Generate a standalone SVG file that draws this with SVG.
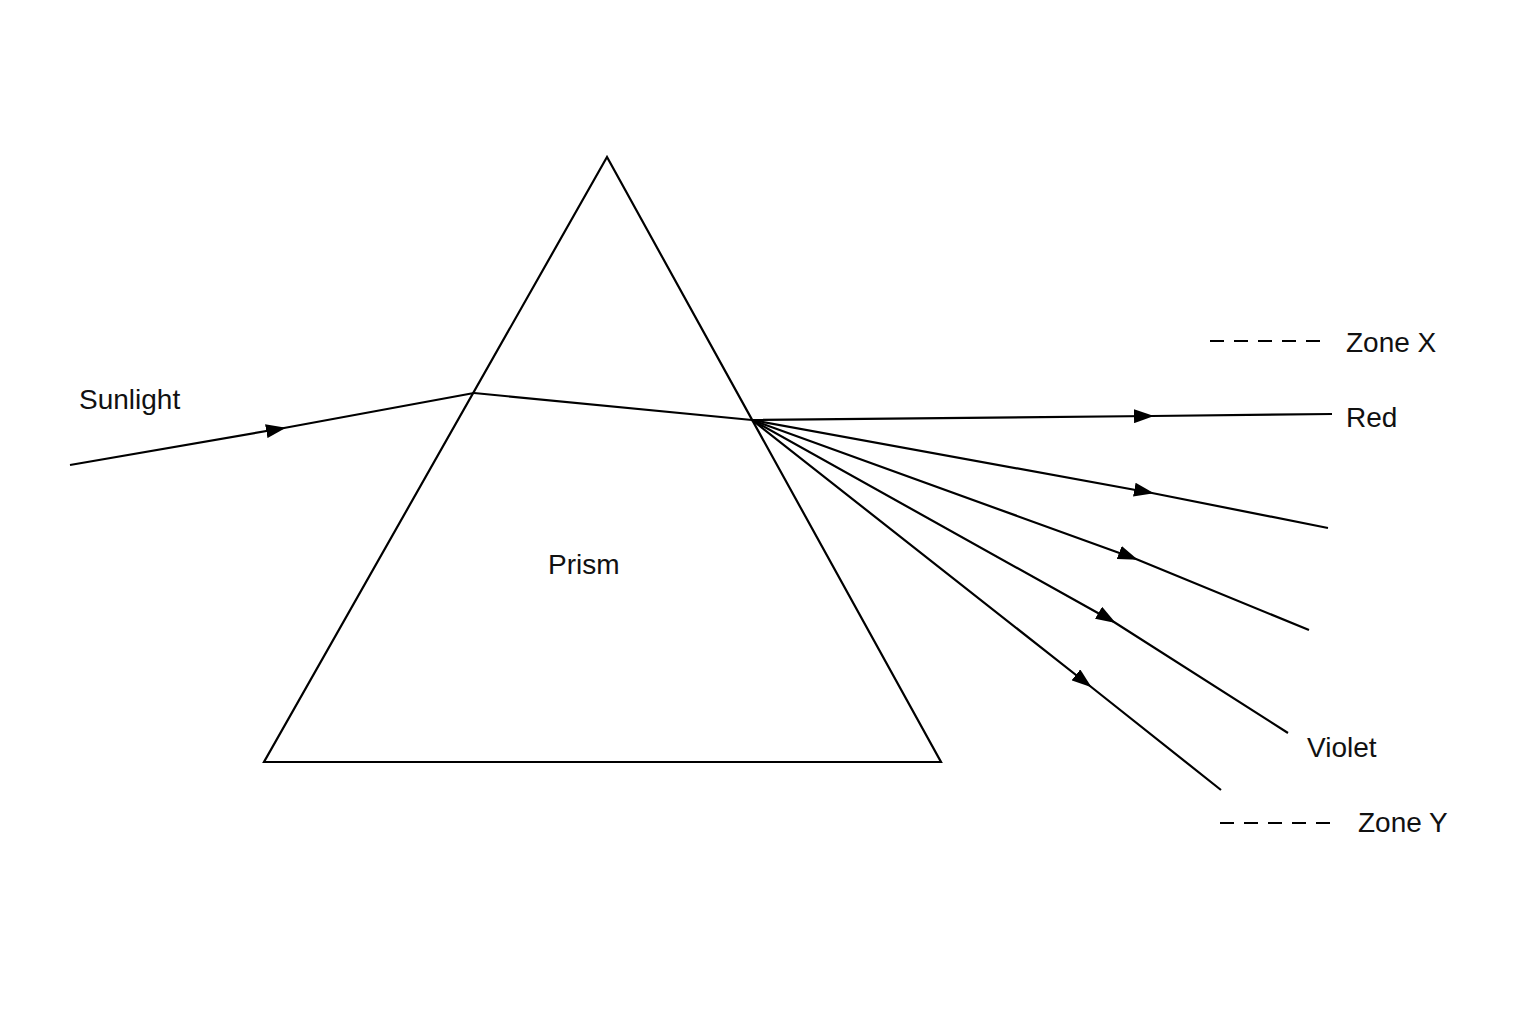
<svg xmlns="http://www.w3.org/2000/svg" width="1536" height="1024" viewBox="0 0 1536 1024">
<style>
.l{fill:none;stroke:#000;stroke-width:2.2;marker-mid:url(#a)}
.t{font-family:"Liberation Sans",Arial,sans-serif;font-size:28px;fill:#111}
.d{stroke:#000;stroke-width:2;stroke-dasharray:14,10}
</style>
<defs><marker id="a" viewBox="0 0 20 14" refX="18" refY="7" markerWidth="20" markerHeight="14" markerUnits="userSpaceOnUse" orient="auto"><path d="M0,0 L20,7 L0,14 Z" fill="#000"/></marker></defs>
<rect width="1536" height="1024" fill="#fff"/>
<g id="prism"><polygon points="607,157 264,762 941,762" fill="none" stroke="#000" stroke-width="2.2"/><text class="t" x="548" y="574">Prism</text></g>
<g id="connectors">
<polyline class="l" points="70,465 284,428 474,393"/>
<line x1="474" y1="393" x2="752" y2="420" stroke="#000" stroke-width="2.2"/>
<polyline class="l" points="752,420 1152,416 1332,414"/>
<polyline class="l" points="752,420 1152,493 1328,528"/>
<polyline class="l" points="752,420 1136,559 1309,630"/>
<polyline class="l" points="752,420 1114,622 1288,733"/>
<polyline class="l" points="752,420 1090,686 1221,790"/>
</g>
<g id="sunlight"><text class="t" x="79" y="409">Sunlight</text></g>
<g id="red"><text class="t" x="1346" y="427">Red</text></g>
<g id="violet"><text class="t" x="1307" y="757">Violet</text></g>
<g id="zonex"><line class="d" x1="1210" y1="341" x2="1320" y2="341"/><text class="t" x="1346" y="352">Zone X</text></g>
<g id="zoney"><line class="d" x1="1220" y1="823" x2="1330" y2="823"/><text class="t" x="1358" y="832">Zone Y</text></g>
</svg>
